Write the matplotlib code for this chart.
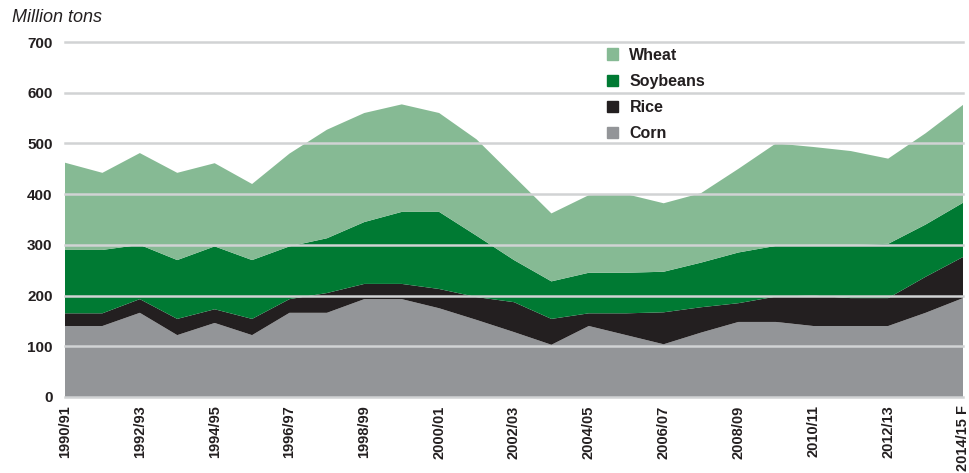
import numpy as np
import matplotlib.pyplot as plt
from matplotlib.patches import Patch

plt.rcParams['font.family'] = ['Liberation Sans', 'DejaVu Sans']

# crop years 1990/91 .. 2014/15 F, million tons
years = ['1990/91', '1991/92', '1992/93', '1993/94', '1994/95', '1995/96', '1996/97',
         '1997/98', '1998/99', '1999/00', '2000/01', '2001/02', '2002/03', '2003/04',
         '2004/05', '2005/06', '2006/07', '2007/08', '2008/09', '2009/10', '2010/11',
         '2011/12', '2012/13', '2013/14', '2014/15 F']
corn = [140, 140, 166, 122, 146, 122, 166, 166, 193, 193, 175, 152, 128, 103, 140,
        122, 104, 127, 148, 148, 140, 140, 140, 166, 195]
rice = [25, 25, 27, 32, 27, 32, 27, 39, 30, 30, 38, 45, 59, 51, 25,
        43, 63, 50, 37, 50, 60, 55, 55, 71, 81]
soybeans = [125, 125, 107, 116, 124, 116, 104, 108, 122, 142, 152, 121, 83, 74, 80,
            80, 80, 88, 100, 100, 100, 105, 107, 103, 107]
wheat = [172, 152, 181, 172, 164, 150, 183, 214, 215, 212, 195, 190, 165, 134, 153,
         155, 135, 137, 165, 202, 193, 185, 168, 180, 193]
yticks = [0, 100, 200, 300, 400, 500, 600, 700]

c_corn = '#939598'
c_rice = '#231f20'
c_soy = '#007a33'
c_wheat = '#86ba94'
c_grid = '#d1d3d4'
c_text = '#231f20'

x = np.arange(len(years))

fig = plt.figure(figsize=(9.69, 4.73), dpi=100)
ax = fig.add_axes([65/969, 1 - 397/473, 898/969, 355/473])

ax.stackplot(x, corn, rice, soybeans, wheat,
             colors=[c_corn, c_rice, c_soy, c_wheat], linewidth=0, zorder=1)

for yv in yticks:
    ax.axhline(yv, color=c_grid, lw=1.8, zorder=3, clip_on=False)

ax.set_xlim(0, len(years) - 1)
ax.set_ylim(0, 700)
for s in ax.spines.values():
    s.set_visible(False)

ax.set_yticks(yticks)
ax.set_yticklabels([str(v) for v in yticks], fontsize=11, fontweight='bold', color=c_text)
ax.tick_params(axis='y', length=0, pad=9)

tick_idx = list(range(0, len(years), 2))
ax.set_xticks(tick_idx)
ax.set_xticklabels([years[i] for i in tick_idx], rotation=90, fontsize=10.5,
                   fontweight='bold', color=c_text)
ax.tick_params(axis='x', length=0, pad=6)

fig.text(12/969, 1 - 17/473, 'Million tons', fontsize=13, style='italic',
         color=c_text, va='center', ha='left')

handles = [Patch(color=c_wheat, label='Wheat'),
           Patch(color=c_soy, label='Soybeans'),
           Patch(color=c_rice, label='Rice'),
           Patch(color=c_corn, label='Corn')]
leg = ax.legend(handles=handles, loc='upper left', bbox_to_anchor=(0.6036, 0.984),
                frameon=False, handlelength=0.7, handleheight=0.7,
                handletextpad=0.7, labelspacing=0.7, borderpad=0, borderaxespad=0,
                prop={'size': 11.5, 'weight': 'bold'})
for t in leg.get_texts():
    t.set_color(c_text)
leg.set_zorder(5)

fig.savefig('out.png', dpi=100)
